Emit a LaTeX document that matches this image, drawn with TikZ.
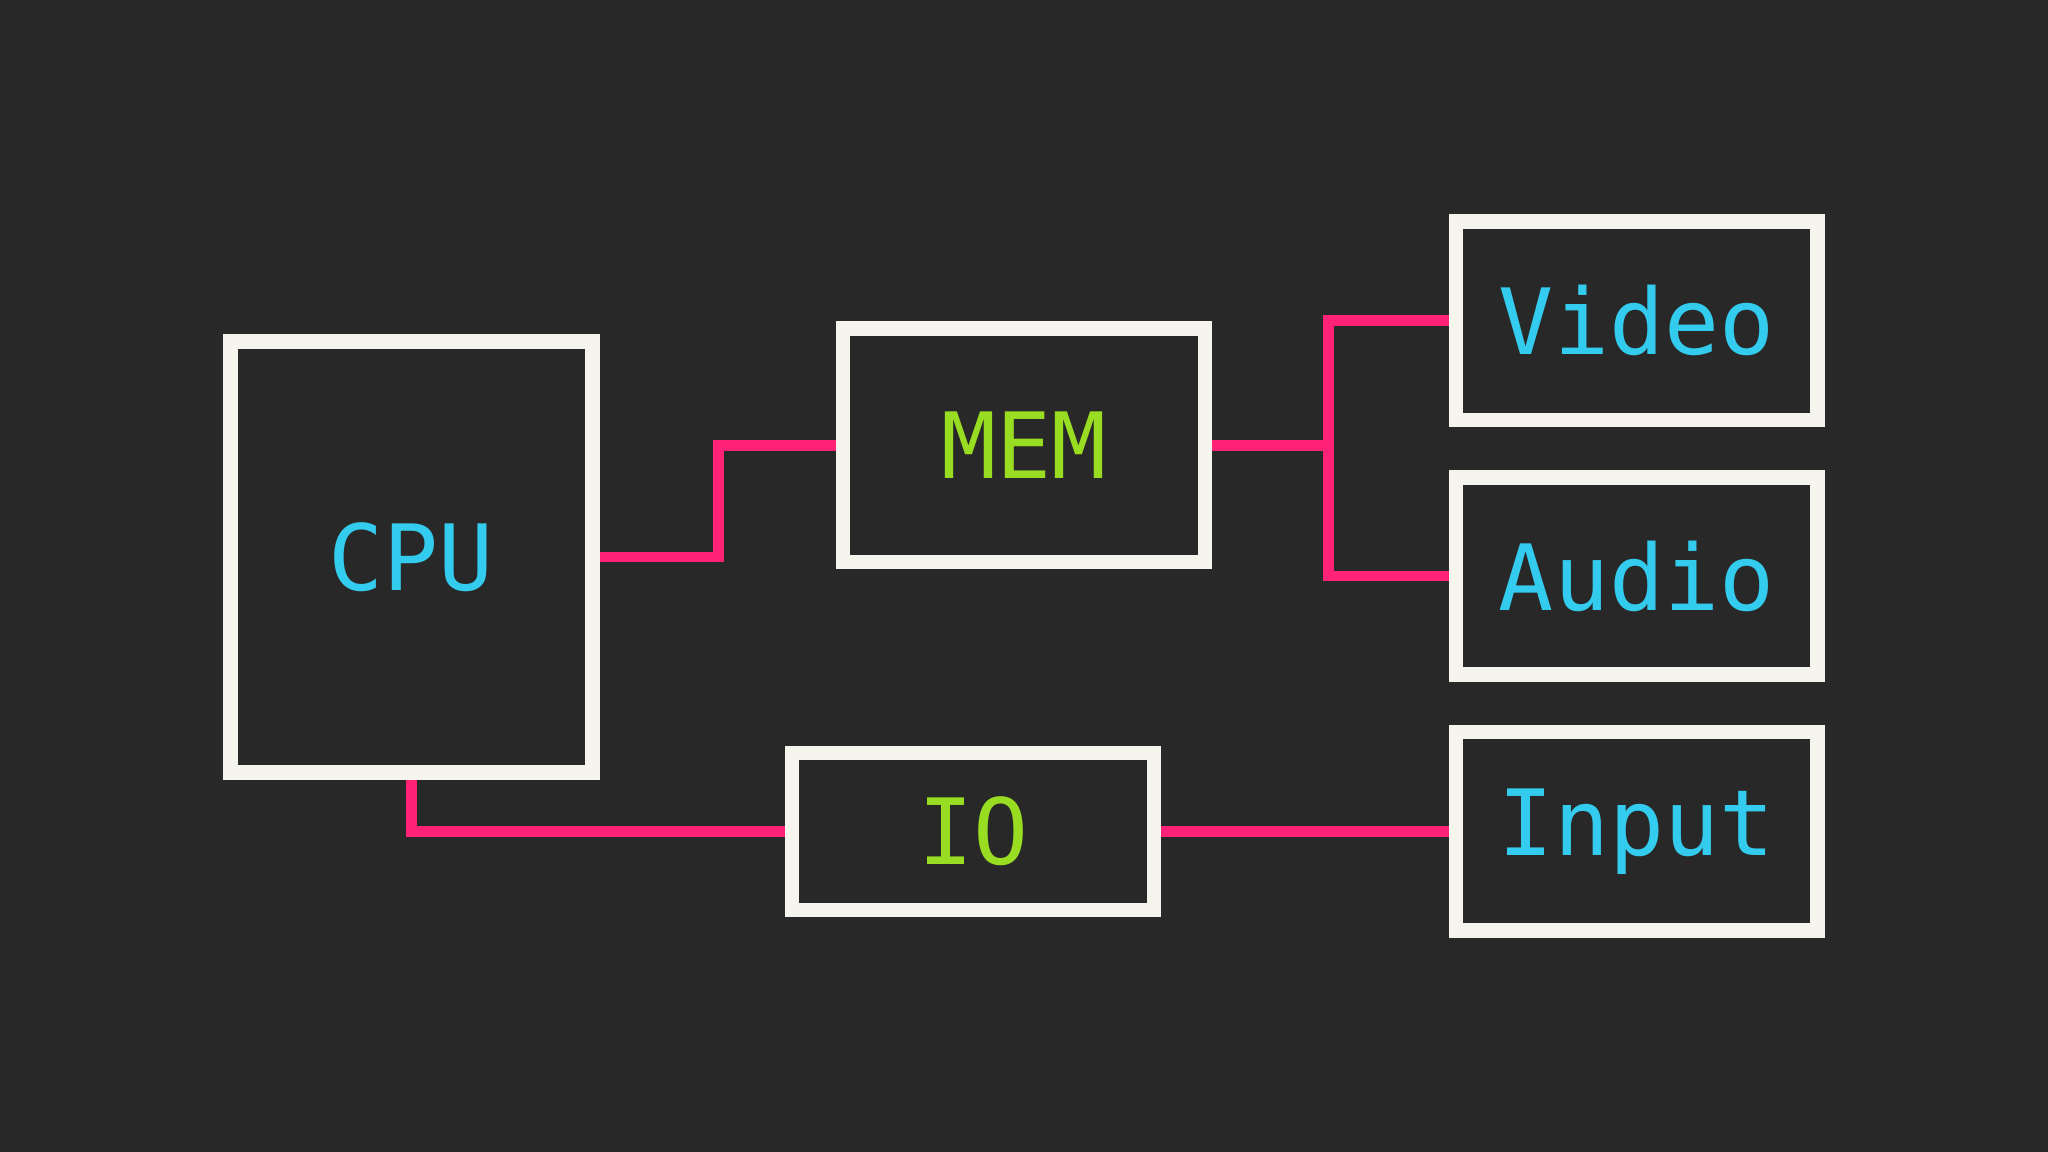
\documentclass[tikz,border=0pt]{standalone}
\usepackage{fontspec}
\setmonofont{DejaVu Sans Mono}
\begin{document}
\begin{tikzpicture}[x=1pt,y=-1pt,
  box/.style={draw=boxw,fill=bg,line width=11pt,inner sep=0pt,outer sep=0pt,minimum width=277pt,font=\ttfamily\fontsize{70}{70}\selectfont},
  wire/.style={draw=wire,line width=8pt},
  cy/.style={text=cyanT}, gr/.style={text=greenT}]
\definecolor{bg}{HTML}{282828}
\definecolor{boxw}{HTML}{F5F5EE}
\definecolor{wire}{HTML}{FF2277}
\definecolor{cyanT}{HTML}{33CCEE}
\definecolor{greenT}{HTML}{99DD22}
\fill[bg] (0,0) rectangle (1568,882);
\useasboundingbox (0,0) rectangle (1568,882);
\coordinate (cpuV) at (315,426.5);
\coordinate (memV) at (784,341);
\coordinate (ioV) at (745,636.5);
\coordinate (vidV) at (1253,245.5);
\coordinate (audV) at (1253,441);
\coordinate (inpV) at (1253,636.5);
\coordinate (j1) at (550,426.5);
\coordinate (j2) at (1017,341);
\path[wire] (cpuV) -- (j1) |- (memV);
\path[wire] (memV) -- (j2) |- (vidV);
\path[wire] (j2) |- (audV);
\path[wire] (cpuV) |- (ioV) -- (inpV);
\node[box,cy,minimum height=330pt] (cpu) at (cpuV) {CPU};
\node[box,gr,minimum height=179pt] (mem) at (memV) {MEM};
\node[box,gr,minimum height=120pt] (io) at (ioV) {IO};
\node[box,cy,minimum height=152pt] (vid) at (vidV) {Video};
\node[box,cy,minimum height=151pt] (aud) at (audV) {Audio};
\node[box,cy,minimum height=152pt] (inp) at (inpV) {Input};
\end{tikzpicture}
\end{document}
